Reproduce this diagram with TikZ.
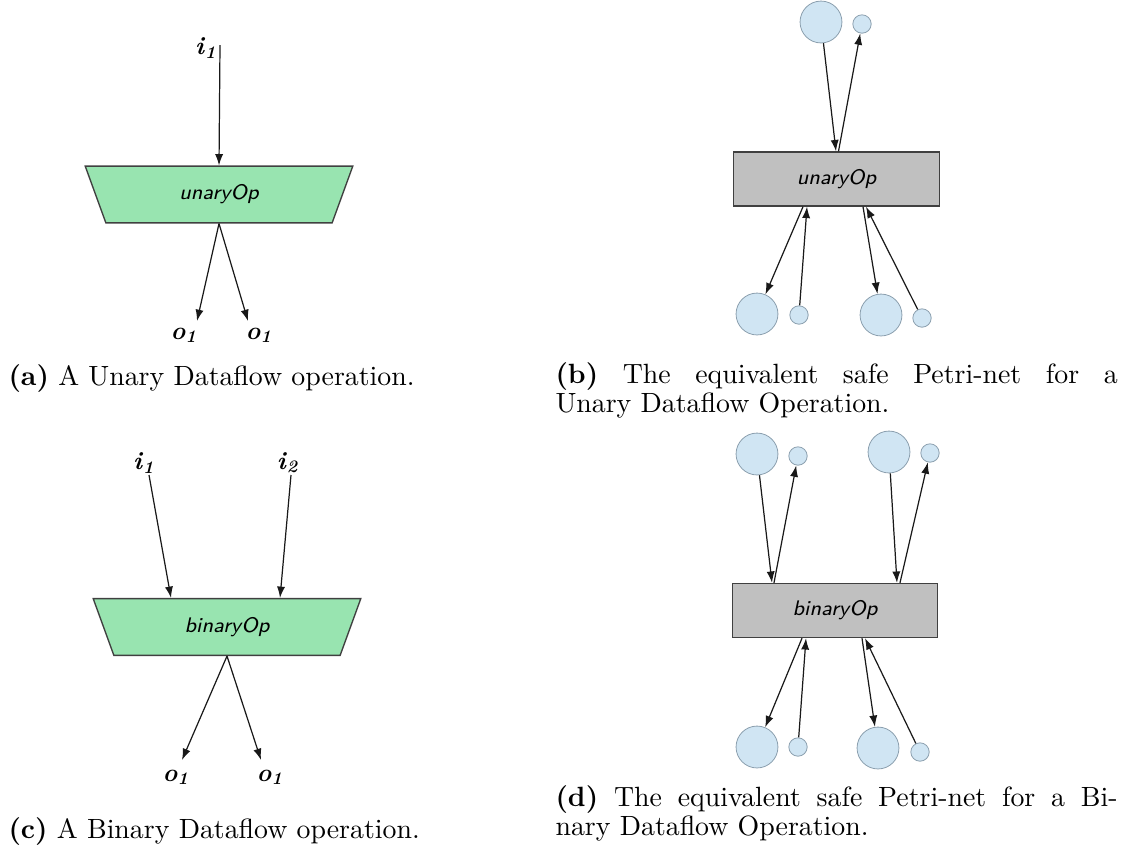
\documentclass[tikz,border=0pt]{standalone}
\usepackage{tikz}
\usetikzlibrary{positioning}
\usetikzlibrary{calc}
\usetikzlibrary{arrows.meta}
\usetikzlibrary{shapes}

\definecolor{opgreen}{RGB}{152,228,176}
\definecolor{transgray}{RGB}{192,192,192}
\definecolor{placeblue}{RGB}{208,229,243}
\definecolor{placeline}{RGB}{140,160,175}

\tikzset{
	dfop/.style={draw=black!75, line width=0.5pt, fill=opgreen, trapezium, shape border rotate=180, trapezium angle=70, trapezium stretches body, minimum width=99pt, text height=5.6pt, text depth=1.8pt, inner ysep=6.8pt, inner xsep=0pt, font=\sffamily\itshape\fontsize{7.8}{9}\selectfont},
	trans/.style={draw=black!75, line width=0.5pt, fill=transgray, rectangle, minimum width=76pt, minimum height=20pt, inner sep=0pt, font=\sffamily\itshape\fontsize{7.8}{9}\selectfont},
	bigplace/.style={draw=placeline, line width=0.3pt, fill=placeblue, circle, minimum size=15.5pt, inner sep=0pt},
	smallplace/.style={draw=placeline, line width=0.3pt, fill=placeblue, circle, minimum size=6.8pt, inner sep=0pt},
	flow/.style={-{Latex[length=4.2pt,width=3pt]}, line width=0.45pt, black!90},
	port/.style={inner sep=0pt, font=\fontsize{9.3}{11}\selectfont},
	caption/.style={inner sep=0pt, font=\fontsize{10.3}{9.6}\selectfont}
}

\begin{document}
\begin{tikzpicture}[x=0.37pt, y=-0.37pt]
	\useasboundingbox (0,0) rectangle (1125,861);

	% (a) unary dataflow operation
	\node[dfop] (uop) at (219,194.5) {unaryOp};
	\coordinate (ia) at (220,45);
	\coordinate (oa1) at (197,321);
	\coordinate (oa2) at (248,321);
	\node[port] (ia lbl) at (206,48) {\textbf{\textit{i}\textsubscript{\textit{1}}}};
	\node[port] (oa1 lbl) at (184,335) {\textbf{\textit{o}\textsubscript{\textit{1}}}};
	\node[port] (oa2 lbl) at (259,335) {\textbf{\textit{o}\textsubscript{\textit{1}}}};
	\draw[flow] (ia) -- (uop.north);
	\draw[flow] (uop.south) -- (oa1);
	\draw[flow] (uop.south) -- (oa2);
	\node[caption, anchor=base west] (capa) at (8,385) {\textbf{(a)} A Unary Dataflow operation.};

	% (b) petri-net for the unary operation
	\node[trans] (ut) at (836.5,179) {unaryOp};
	\node[bigplace] (up1) at (821,22) {};
	\node[smallplace] (up2) at (862,24) {};
	\node[bigplace] (ub1) at (757,314) {};
	\node[smallplace] (ub2) at (799,315) {};
	\node[bigplace] (ub3) at (881,315) {};
	\node[smallplace] (ub4) at (922,318) {};
	\draw[flow] (up1) -- ($(ut.north)+(-0.5,0)$);
	\draw[flow] ($(ut.north)+(2,0)$) -- (up2);
	\draw[flow] ($(ut.south)+(-33.5,0)$) -- (ub1);
	\draw[flow] (ub2) -- ($(ut.south)+(-29.5,0)$);
	\draw[flow] ($(ut.south)+(26.5,0)$) -- (ub3);
	\draw[flow] (ub4) -- ($(ut.south)+(29.5,0)$);
	\node[caption, anchor=base west, text width=208pt, align=justify] (capb) at (555,383) {\textbf{(b)} The equivalent safe Petri-net for a\linebreak Unary Dataflow Operation.};

	% (c) binary dataflow operation
	\node[dfop] (bop) at (227,627) {binaryOp};
	\coordinate (ic1) at (149,475);
	\coordinate (ic2) at (291,475);
	\coordinate (oc1) at (182,760);
	\coordinate (oc2) at (261,760);
	\node[port] (ic1 lbl) at (144,463) {\textbf{\textit{i}\textsubscript{\textit{1}}}};
	\node[port] (ic2 lbl) at (288,463) {\textbf{\textit{i}\textsubscript{\textit{2}}}};
	\node[port] (oc1 lbl) at (176,777) {\textbf{\textit{o}\textsubscript{\textit{1}}}};
	\node[port] (oc2 lbl) at (270,777) {\textbf{\textit{o}\textsubscript{\textit{1}}}};
	\draw[flow] (ic1) -- ($(bop.north)+(-56,0)$);
	\draw[flow] (ic2) -- ($(bop.north)+(53,0)$);
	\draw[flow] (bop.south) -- (oc1);
	\draw[flow] (bop.south) -- (oc2);
	\node[caption, anchor=base west] (capc) at (8,838) {\textbf{(c)} A Binary Dataflow operation.};

	% (d) petri-net for the binary operation
	\node[trans] (bt) at (835,610.5) {binaryOp};
	\node[bigplace] (bp1) at (757,454) {};
	\node[smallplace] (bp2) at (798,456) {};
	\node[bigplace] (bp3) at (889,452) {};
	\node[smallplace] (bp4) at (930,453) {};
	\node[bigplace] (bb1) at (757,747) {};
	\node[smallplace] (bb2) at (798,747) {};
	\node[bigplace] (bb3) at (878,748) {};
	\node[smallplace] (bb4) at (920,752) {};
	\draw[flow] (bp1) -- ($(bt.north)+(-63,0)$);
	\draw[flow] ($(bt.north)+(-61,0)$) -- (bp2);
	\draw[flow] (bp3) -- ($(bt.north)+(62,0)$);
	\draw[flow] ($(bt.north)+(65,0)$) -- (bp4);
	\draw[flow] ($(bt.south)+(-33,0)$) -- (bb1);
	\draw[flow] (bb2) -- ($(bt.south)+(-29,0)$);
	\draw[flow] ($(bt.south)+(27,0)$) -- (bb3);
	\draw[flow] (bb4) -- ($(bt.south)+(30,0)$);
	\node[caption, anchor=base west, text width=208pt, align=justify] (capd) at (555,806) {\textbf{(d)} The equivalent safe Petri-net for a Bi-\linebreak nary Dataflow Operation.};
\end{tikzpicture}
\end{document}
